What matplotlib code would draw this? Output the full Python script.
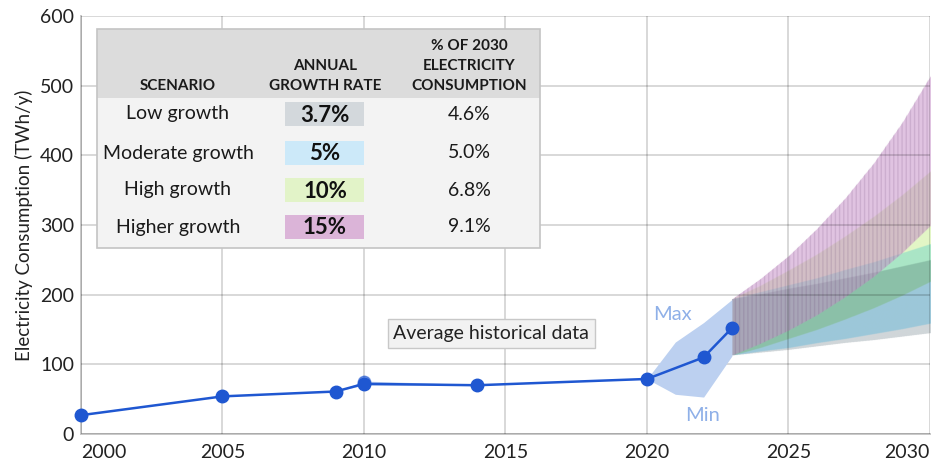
import numpy as np
import matplotlib.pyplot as plt
from matplotlib.patches import Rectangle

plt.rcParams['font.family'] = ['Lato', 'DejaVu Sans']
plt.rcParams['hatch.linewidth'] = 1.0

# historical data
hist_years = [2000, 2005, 2009, 2010, 2014, 2020, 2022, 2023]
hist_vals = [27, 54, 61, 72, 70, 79, 110, 152]
extra_year = [2010]
extra_val = [75]

# small spread around 2010
spread_years = [2009, 2010, 2014]
spread_hi = [61, 76, 71]
spread_lo = [61, 70, 70]

# min / max band of recent years
mm_years = [2020, 2021, 2022, 2023]
mm_max = [79, 132, 160, 193]
mm_min = [79, 57, 53, 112]

# scenario fans 2023-2030
fan_years = [2023, 2024, 2025, 2026, 2027, 2028, 2029, 2030]
low_lo = [112, 116, 120, 125, 130, 134, 139, 144]
low_hi = [193, 200, 208, 215, 223, 231, 240, 249]
mod_lo = [112, 118, 123, 130, 136, 143, 150, 158]
mod_hi = [193, 203, 213, 223, 235, 246, 259, 272]
high_lo = [112, 123, 136, 149, 164, 180, 198, 218]
high_hi = [193, 212, 234, 257, 283, 311, 342, 376]
higher_lo = [112, 129, 148, 170, 196, 225, 259, 298]
higher_hi = [193, 222, 255, 294, 338, 388, 446, 513]

scenarios = ['Low growth', 'Moderate growth', 'High growth', 'Higher growth']
rates = ['3.7%', '5%', '10%', '15%']
shares = ['4.6%', '5.0%', '6.8%', '9.1%']
swatch_cols = ['#d3d8dc', '#cce9f9', '#e2f3c8', '#dbb4d8']
# low / moderate / high fans multiply where they overlap, the purple one lies on top
fan_cols = [(208, 214, 217), (192, 238, 255), (227, 246, 198)]
purple = (196, 140, 198)
purple_alpha = 0.52

fig = plt.figure(figsize=(9.36, 4.62), dpi=100)
ax = fig.add_axes([81/936, 28/462, 849/936, 418/462])

ax.set_xlim(2000, 2030)
ax.set_ylim(0, 600)
ax.set_axisbelow(False)
ax.grid(True, color='black', alpha=0.18, lw=1.2)
for s in ['top', 'right']:
    ax.spines[s].set_visible(False)
for s in ['left', 'bottom']:
    ax.spines[s].set_color('#c8c8c8')
    ax.spines[s].set_linewidth(1.4)
ax.tick_params(length=0, labelsize=14, colors='#222222')
ax.tick_params(axis='x', pad=7)
ax.tick_params(axis='y', pad=5)
ax.set_yticks(range(0, 601, 100))
ax.set_xticks(range(2000, 2031, 5))
xl = ax.get_xticklabels()
xl[0].set_ha('left')
xl[-1].set_ha('right')
ax.set_ylabel('Electricity Consumption (TWh/y)', fontsize=13.5, color='#222222', labelpad=5)

# fans drawn on a fine grid
gx = np.linspace(2023, 2030, 800)
gy = np.linspace(0, 600, 1400)
X, Y = np.meshgrid(gx, gy)
img = np.ones((len(gy), len(gx), 4))
img[..., 3] = 0
bands = [(low_lo, low_hi), (mod_lo, mod_hi), (high_lo, high_hi)]
for (lo, hi), c in zip(bands, fan_cols):
    m = (Y >= np.interp(X, fan_years, lo)) & (Y <= np.interp(X, fan_years, hi))
    for k in range(3):
        img[..., k] = np.where(m, img[..., k] * c[k] / 255, img[..., k])
    img[..., 3] = np.where(m, 1, img[..., 3])
m = (Y >= np.interp(X, fan_years, higher_lo)) & (Y <= np.interp(X, fan_years, higher_hi))
for k in range(3):
    img[..., k] = np.where(m, purple_alpha * purple[k] / 255 + (1 - purple_alpha) * img[..., k], img[..., k])
img[..., 3] = np.where(m, 1, img[..., 3])
ax.imshow(img, extent=[2023, 2030, 0, 600], origin='lower', aspect='auto',
          interpolation='bilinear', zorder=2)
ax.fill_between(fan_years, higher_lo, higher_hi, facecolor='none', hatch='||||',
                edgecolor=(0.35, 0.2, 0.4, 0.14), lw=0, zorder=2.2)
ax.set_xlim(2000, 2030)
ax.set_ylim(0, 600)

# historical bands
ax.fill_between(mm_years, mm_min, mm_max, color='#bcd0f0', lw=0, zorder=3)
ax.fill_between(spread_years, spread_lo, spread_hi, color='#bcd0f0', lw=0, zorder=3)

ax.plot(hist_years, hist_vals, color='#1f57d1', lw=1.8, marker='o', ms=9, zorder=5, clip_on=False)
ax.plot(extra_year, extra_val, color='#1f57d1', marker='o', ms=9, alpha=0.6, lw=0, zorder=4)

ax.text(2014.5, 144, 'Average historical data', fontsize=14, color='#222222', ha='center', va='center',
        bbox=dict(boxstyle='square,pad=0.3', fc='#f2f2f2', ec='#c8c8c8', lw=1), zorder=6)
ax.text(2020.9, 171, 'Max', fontsize=14.5, color='#8fb0e8', ha='center', va='center', zorder=6)
ax.text(2021.95, 26, 'Min', fontsize=14.5, color='#8fb0e8', ha='center', va='center', zorder=6)

# table overlay in pixel coordinates
ov = fig.add_axes([0, 0, 1, 1])
ov.set_xlim(0, 936)
ov.set_ylim(462, 0)
ov.axis('off')
ov.add_patch(Rectangle((97, 29), 443, 69, fc='#dcdcdc', ec='none'))
ov.add_patch(Rectangle((97, 98), 443, 150, fc='#f3f3f3', ec='none'))
ov.add_patch(Rectangle((97, 29), 443, 219, fc='none', ec='#c4c4c4', lw=1.2))

hdr = dict(fontsize=11, fontweight='bold', color='#1a1a1a', ha='center', va='center')
ov.text(178, 86, 'SCENARIO', **hdr)
ov.text(325, 66, 'ANNUAL', **hdr)
ov.text(325, 86, 'GROWTH RATE', **hdr)
ov.text(469, 46, '% OF 2030', **hdr)
ov.text(469, 66, 'ELECTRICITY', **hdr)
ov.text(469, 86, 'CONSUMPTION', **hdr)

row_y = [114, 153, 190, 227]
for i in range(4):
    y = row_y[i]
    ov.text(178, y, scenarios[i], fontsize=14, color='#1a1a1a', ha='center', va='center')
    ov.add_patch(Rectangle((285, y - 12), 79, 24, fc=swatch_cols[i], ec='none'))
    ov.text(325, y + 1, rates[i], fontsize=16, fontweight='bold', color='#111111', ha='center', va='center')
    ov.text(469, y, shares[i], fontsize=14, color='#1a1a1a', ha='center', va='center')

fig.savefig('out.png', dpi=100)
